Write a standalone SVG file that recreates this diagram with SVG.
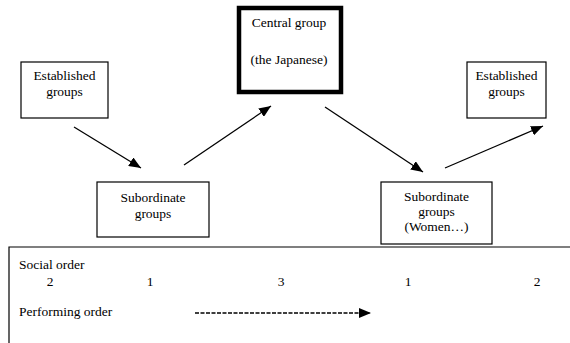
<svg xmlns="http://www.w3.org/2000/svg" width="570" height="343" viewBox="0 0 570 343">
<style>
text{font-family:"Liberation Serif","Times New Roman",serif;font-size:13.5px;fill:#000}
.c{text-anchor:middle}
.box{fill:#fff;stroke:#000;stroke-width:1.2}
.edge{stroke:#000;stroke-width:1.3;fill:none}
</style>
<defs>
<marker id="ah2" markerWidth="12" markerHeight="10" refX="12" refY="5" orient="auto" markerUnits="userSpaceOnUse">
<path d="M0,0 L12,5 L0,10 Z" fill="#000"/>
</marker>
</defs>
<rect width="570" height="343" fill="#fff"/>
<g id="established1">
<rect class="box" x="21" y="62" width="87" height="56"/>
<text class="c" x="64.5" y="80">Established</text>
<text class="c" x="64.5" y="96">groups</text>
</g>
<g id="subordinate1">
<rect class="box" x="97" y="182" width="112" height="55"/>
<text class="c" x="153" y="202">Subordinate</text>
<text class="c" x="153" y="218">groups</text>
</g>
<g id="central">
<rect x="239" y="8" width="102" height="84" fill="#fff" stroke="#000" stroke-width="4.5"/>
<text class="c" x="289" y="27">Central group</text>
<text class="c" x="289" y="64">(the Japanese)</text>
</g>
<g id="established2">
<rect class="box" x="467" y="62" width="79" height="56"/>
<text class="c" x="506.5" y="80">Established</text>
<text class="c" x="506.5" y="96">groups</text>
</g>
<g id="subordinate2">
<rect class="box" x="381" y="182" width="111" height="62"/>
<text class="c" x="436.5" y="201">Subordinate</text>
<text class="c" x="436.5" y="216">groups</text>
<text class="c" x="436.5" y="231">(Women…)</text>
</g>
<g id="connectors">
<line class="edge" x1="74" y1="127" x2="141" y2="168" marker-end="url(#ah2)"/>
<line class="edge" x1="184" y1="165" x2="271" y2="106" marker-end="url(#ah2)"/>
<line class="edge" x1="325" y1="107" x2="423" y2="172" marker-end="url(#ah2)"/>
<line class="edge" x1="445" y1="168" x2="543" y2="126" marker-end="url(#ah2)"/>
</g>
<g id="order-panel">
<path d="M9,343 L9,247 L570,247" fill="none" stroke="#000" stroke-width="1.2"/>
<text x="19" y="269">Social order</text>
<text class="c" x="50" y="286">2</text>
<text class="c" x="150" y="286">1</text>
<text class="c" x="281" y="286">3</text>
<text class="c" x="408" y="286">1</text>
<text class="c" x="537" y="286">2</text>
<text x="19" y="316">Performing order</text>
<line x1="195" y1="313" x2="371" y2="313" stroke="#000" stroke-width="1.3" stroke-dasharray="4,1.5" marker-end="url(#ah2)"/>
</g>
</svg>
